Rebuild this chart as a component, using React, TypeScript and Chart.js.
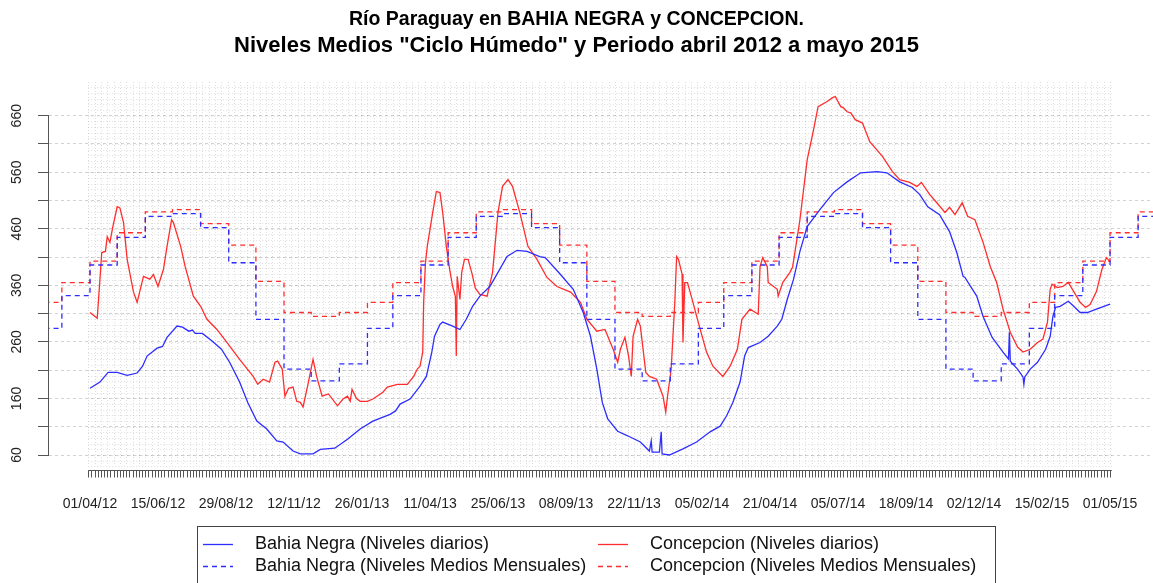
import React, { useEffect, useRef } from 'react';
import { Chart, registerables } from 'chart.js';

Chart.register(...registerables);

// ---------- text ----------
const titleLines = [
  'Río Paraguay en BAHIA NEGRA y CONCEPCION.',
  'Niveles Medios "Ciclo Húmedo" y Periodo abril 2012 a mayo 2015',
];
const seriesLabels = [
  'Bahia Negra (Niveles diarios)',
  'Bahia Negra (Niveles Medios Mensuales)',
  'Concepcion (Niveles diarios)',
  'Concepcion (Niveles Medios Mensuales)',
];
const xTickLabels = [
  '01/04/12', '15/06/12', '29/08/12', '12/11/12', '26/01/13', '11/04/13', '25/06/13', '08/09/13',
  '22/11/13', '05/02/14', '21/04/14', '05/07/14', '18/09/14', '02/12/14', '15/02/15', '01/05/15',
];
const yTickLabels = [60, 160, 260, 360, 460, 560, 660];

// ---------- data: [days since 01/04/2012, level] ----------
const bahiaDaily: number[][] = [
  [0, 178], [11, 189], [20, 206], [30, 206], [41, 201], [52, 205], [58, 217], [63, 235], [74, 249], [80, 252],
  [85, 268], [96, 288], [102, 286], [109, 279], [113, 281], [116, 275], [124, 275], [135, 261], [145, 247], [154, 224],
  [165, 189], [174, 153], [184, 120], [195, 106], [206, 85], [213, 83], [224, 67], [232, 62], [246, 62], [254, 70],
  [270, 72], [284, 88], [298, 106], [312, 120], [331, 132], [337, 138], [342, 150], [353, 159], [364, 182], [371, 199],
  [377, 242], [380, 270], [386, 291], [389, 295], [400, 288], [408, 282], [415, 300], [422, 323], [430, 341], [441, 358],
  [450, 383], [460, 411], [471, 422], [482, 420], [496, 411], [502, 409], [518, 381], [533, 353], [544, 312], [552, 270],
  [559, 212], [565, 153], [571, 124], [582, 102], [593, 94], [607, 83], [617, 67], [619, 85], [620, 65], [628, 65],
  [630, 101], [631, 62], [639, 60], [654, 71], [669, 83], [684, 101], [695, 111], [702, 129], [709, 153], [717, 189],
  [722, 235], [726, 250], [739, 259], [748, 270], [758, 288], [763, 300], [769, 335], [776, 371], [783, 420], [791, 464],
  [805, 494], [820, 524], [835, 543], [850, 559], [868, 561], [879, 559], [893, 543], [907, 533], [915, 521], [924, 499],
  [937, 485], [948, 455], [956, 418], [963, 376], [965, 374], [978, 341], [985, 305], [995, 268], [1007, 242], [1013, 230],
  [1014, 277], [1015, 226], [1023, 212], [1029, 198], [1030, 185], [1031, 198], [1037, 212], [1045, 224], [1054, 247], [1059, 270],
  [1062, 305], [1065, 321], [1070, 323], [1079, 332], [1085, 323], [1092, 312], [1100, 312], [1110, 318], [1125, 327],
];

const concepcionDaily: number[][] = [
  [0, 312], [8, 302], [11, 371], [13, 418], [17, 420], [19, 446], [22, 436], [25, 462], [30, 499], [33, 497],
  [37, 471], [41, 406], [48, 348], [52, 330], [59, 376], [66, 371], [70, 379], [75, 358], [81, 388], [85, 429],
  [90, 476], [92, 471], [100, 429], [105, 393], [114, 341], [122, 323], [129, 300], [140, 282], [151, 259], [165, 229],
  [180, 199], [185, 185], [191, 194], [198, 189], [204, 224], [207, 226], [212, 212], [215, 164], [219, 178], [224, 180],
  [228, 155], [232, 153], [235, 145], [240, 182], [246, 229], [250, 199], [256, 164], [263, 168], [273, 147], [279, 159],
  [284, 164], [287, 155], [289, 176], [294, 160], [298, 155], [306, 155], [312, 159], [323, 171], [328, 180], [339, 185],
  [350, 185], [357, 199], [361, 212], [364, 217], [367, 242], [368, 330], [370, 400], [372, 429], [378, 489], [382, 526],
  [386, 524], [389, 489], [393, 429], [397, 385], [400, 358], [403, 340], [404, 235], [405, 376], [408, 335], [410, 383],
  [413, 406], [417, 406], [421, 383], [425, 355], [430, 344], [438, 341], [444, 383], [450, 489], [455, 535], [461, 547],
  [466, 535], [474, 489], [483, 429], [493, 406], [504, 374], [515, 358], [530, 348], [541, 330], [548, 300], [559, 279],
  [568, 282], [577, 247], [582, 224], [585, 247], [590, 268], [594, 235], [597, 199], [599, 270], [604, 300], [607, 288],
  [613, 206], [617, 199], [625, 194], [632, 164], [635, 136], [637, 164], [641, 212], [645, 330], [647, 411], [649, 406],
  [653, 380], [654, 259], [656, 365], [659, 365], [665, 330], [672, 288], [680, 242], [687, 217], [698, 199], [706, 217],
  [714, 247], [719, 300], [728, 318], [737, 309], [739, 393], [742, 409], [747, 393], [748, 365], [758, 353], [759, 341],
  [764, 365], [772, 383], [775, 393], [783, 476], [791, 582], [798, 635], [803, 676], [813, 685], [819, 692], [822, 694],
  [828, 676], [831, 674], [835, 667], [839, 665], [844, 653], [852, 647], [860, 614], [874, 588], [885, 561], [893, 547],
  [904, 542], [912, 535], [917, 542], [926, 521], [934, 506], [943, 489], [948, 498], [954, 485], [962, 506], [968, 482],
  [976, 476], [985, 436], [993, 393], [1000, 365], [1007, 318], [1015, 277], [1023, 251], [1029, 242], [1037, 247], [1045, 259],
  [1051, 265], [1056, 295], [1059, 353], [1061, 362], [1067, 356], [1073, 358], [1079, 365], [1085, 349], [1092, 330], [1098, 321],
  [1103, 326], [1110, 349], [1116, 388], [1121, 409], [1125, 402],
];

// Mean monthly levels of the reference wet cycle, Jan..Dec
const monthNames = ['ene', 'feb', 'mar', 'abr', 'may', 'jun', 'jul', 'ago', 'sep', 'oct', 'nov', 'dic'];
const bahiaMonthlyMean = [221, 284, 342, 396, 445, 482, 487, 462, 400, 300, 212, 191];
const concepcionMonthlyMean = [312, 330, 365, 403, 453, 490, 494, 469, 431, 367, 312, 305];

// ---------- helpers ----------
const DAY0 = Date.UTC(2012, 3, 1);
const MS_DAY = 86400000;
const dayOf = (y: number, m: number, d: number) => Math.round((Date.UTC(y, m, d) - DAY0) / MS_DAY);
const parseLabel = (s: string) => {
  const [dd, mm, yy] = s.split('/').map(Number);
  return dayOf(2000 + yy, mm - 1, dd);
};
const xTickDays = xTickLabels.map(parseLabel);

// monthly step series from Feb 2012 to Jul 2015 (closing point on 1 Aug 2015)
function monthlySteps(means: number[]) {
  const pts: { x: number; y: number; m: string }[] = [];
  const nMonths = 42;
  for (let k = 0; k <= nMonths; k++) {
    const year = 2012 + Math.floor((1 + k) / 12);
    const month = (1 + k) % 12;
    const valMonth = k === nMonths ? (month + 11) % 12 : month;
    pts.push({ x: dayOf(year, month, 1), y: means[valMonth], m: monthNames[valMonth] });
  }
  return pts;
}
const toXY = (arr: number[][]) => arr.map(([d, v]) => ({ x: d, y: v }));

// ---------- style constants ----------
const FONT = "'Liberation Sans', Arial, Helvetica, sans-serif";
const BLUE = 'rgb(45,45,255)';
const RED = 'rgb(255,45,45)';
const DASH = [5, 4];
const X_MIN = -45.2;
const X_MAX = 1172.4;
const Y_MIN = 33.5;
const Y_MAX = 719.6;
const GRID_FIRST_DAY = -2;
const GRID_LAST_DAY = 1127;

const rPlotPlugin = {
  id: 'rPlot',
  beforeDatasetsDraw(chart: any) {
    const { ctx, chartArea, scales } = chart;
    const xs = scales.x;
    const ys = scales.y;
    const xl = xs.getPixelForValue(GRID_FIRST_DAY);
    const xr = xs.getPixelForValue(GRID_LAST_DAY);
    ctx.save();
    ctx.lineWidth = 1;
    ctx.strokeStyle = 'rgba(0,0,0,0.13)';
    ctx.setLineDash([1, 2]);
    for (let d = GRID_FIRST_DAY; d <= GRID_LAST_DAY; d += 7) {
      const px = Math.round(xs.getPixelForValue(d)) + 0.5;
      ctx.beginPath();
      ctx.moveTo(px, chartArea.top);
      ctx.lineTo(px, chartArea.bottom - 4);
      ctx.stroke();
    }
    for (let v = 40; v <= Y_MAX; v += 10) {
      const py = Math.round(ys.getPixelForValue(v)) + 0.5;
      ctx.beginPath();
      ctx.moveTo(xl, py);
      ctx.lineTo(xr, py);
      ctx.stroke();
    }
    ctx.restore();
  },
  afterDraw(chart: any) {
    const { ctx, chartArea, scales } = chart;
    const xs = scales.x;
    const ys = scales.y;
    ctx.save();
    ctx.setLineDash([]);
    ctx.strokeStyle = '#555';
    ctx.lineWidth = 1;
    const xl = xs.getPixelForValue(GRID_FIRST_DAY);
    const xr = xs.getPixelForValue(GRID_LAST_DAY);
    const by = Math.round(chartArea.bottom) + 0.5;
    ctx.beginPath();
    ctx.moveTo(xl, by);
    ctx.lineTo(xr, by);
    for (let d = GRID_FIRST_DAY; d <= GRID_LAST_DAY + 0.01; d += 3.5) {
      const px = Math.round(xs.getPixelForValue(d)) + 0.5;
      ctx.moveTo(px, by);
      ctx.lineTo(px, by + 7);
    }
    ctx.stroke();
    const ax = Math.round(chartArea.left) - 0.5;
    ctx.beginPath();
    ctx.moveTo(ax, ys.getPixelForValue(yTickLabels[0]));
    ctx.lineTo(ax, ys.getPixelForValue(yTickLabels[yTickLabels.length - 1]));
    ctx.stroke();
    ctx.fillStyle = '#222';
    ctx.font = `14px ${FONT}`;
    ctx.textAlign = 'center';
    ctx.textBaseline = 'middle';
    for (const v of yTickLabels) {
      ctx.save();
      ctx.translate(17.5, ys.getPixelForValue(v));
      ctx.rotate(-Math.PI / 2);
      ctx.fillText(String(v), 0, 0);
      ctx.restore();
    }
    // legend box (2 columns, R style)
    ctx.strokeStyle = '#444';
    ctx.strokeRect(197.5, 526.5, 798, 80);
    const colX = [203, 598];
    const rowY = [544, 566];
    ctx.font = `18px ${FONT}`;
    ctx.textAlign = 'left';
    chart.data.datasets.forEach((ds: any, i: number) => {
      const col = i < 2 ? 0 : 1;
      const row = i % 2;
      const x0 = colX[col];
      const y0 = rowY[row] + 0.5;
      ctx.strokeStyle = ds.borderColor;
      ctx.lineWidth = 1.3;
      ctx.setLineDash(ds.borderDash || []);
      ctx.beginPath();
      ctx.moveTo(x0, y0);
      ctx.lineTo(x0 + 30, y0);
      ctx.stroke();
      ctx.setLineDash([]);
      ctx.fillStyle = '#111';
      ctx.fillText(ds.label, x0 + 52, rowY[row]);
    });
    ctx.restore();
  },
};

export default function App() {
  const canvasRef = useRef<HTMLCanvasElement | null>(null);

  useEffect(() => {
    if (!canvasRef.current) return;
    Chart.defaults.font.family = FONT;
    const chart = new Chart(canvasRef.current, {
      type: 'line',
      data: {
        datasets: [
          { label: seriesLabels[0], data: toXY(bahiaDaily), borderColor: BLUE, borderWidth: 1.3, pointRadius: 0, tension: 0 },
          { label: seriesLabels[1], data: monthlySteps(bahiaMonthlyMean), borderColor: BLUE, borderWidth: 1.3, borderDash: DASH, stepped: 'before', pointRadius: 0 },
          { label: seriesLabels[2], data: toXY(concepcionDaily), borderColor: RED, borderWidth: 1.3, pointRadius: 0, tension: 0 },
          { label: seriesLabels[3], data: monthlySteps(concepcionMonthlyMean), borderColor: RED, borderWidth: 1.3, borderDash: DASH, stepped: 'before', pointRadius: 0 },
        ],
      } as any,
      options: {
        animation: false,
        responsive: false,
        devicePixelRatio: 1,
        layout: { padding: { left: 0, right: 0, top: 0, bottom: 70 } },
        plugins: {
          legend: { display: false },
          tooltip: { enabled: false },
          title: {
            display: true,
            text: titleLines[0],
            color: '#000',
            font: { size: 19.5, weight: 'bold', family: FONT, lineHeight: 26 / 19.5 },
            padding: { top: 7, bottom: 0 },
          },
          subtitle: {
            display: true,
            text: titleLines[1],
            color: '#000',
            font: { size: 22, weight: 'bold', family: FONT, lineHeight: 26 / 22 },
            padding: { top: 0, bottom: 23 },
          },
        },
        scales: {
          x: {
            type: 'linear',
            min: X_MIN,
            max: X_MAX,
            afterBuildTicks: (scale: any) => {
              scale.ticks = xTickDays.map((v) => ({ value: v }));
            },
            afterFit: (scale: any) => {
              scale.paddingLeft = 0;
              scale.paddingRight = 0;
              scale.height = 43;
            },
            grid: { display: false, drawTicks: false },
            border: { display: false },
            ticks: {
              autoSkip: false,
              maxRotation: 0,
              minRotation: 0,
              padding: 26,
              color: '#222',
              font: { size: 14, family: FONT },
              callback: (value: any) => {
                const i = xTickDays.indexOf(Number(value));
                return i >= 0 ? xTickLabels[i] : '';
              },
            },
          },
          y: {
            type: 'linear',
            min: Y_MIN,
            max: Y_MAX,
            afterBuildTicks: (scale: any) => {
              const t: { value: number }[] = [];
              for (let v = yTickLabels[0]; v <= yTickLabels[yTickLabels.length - 1]; v += 50) t.push({ value: v });
              scale.ticks = t;
            },
            afterFit: (scale: any) => {
              scale.width = 49;
              scale.paddingTop = 0;
              scale.paddingBottom = 0;
            },
            grid: { color: '#d2d2d2', lineWidth: 1, drawTicks: true, tickLength: 11, tickColor: '#555', tickWidth: 1 },
            border: { display: false, dash: [3, 3] },
            ticks: { display: false },
          },
        },
      } as any,
      plugins: [rPlotPlugin],
    });
    return () => chart.destroy();
  }, []);

  return (
    <div style={{ position: 'fixed', left: 0, top: 0, width: 1153, height: 583, background: '#fff' }}>
      <canvas ref={canvasRef} width={1153} height={583} style={{ display: 'block' }} />
    </div>
  );
}
